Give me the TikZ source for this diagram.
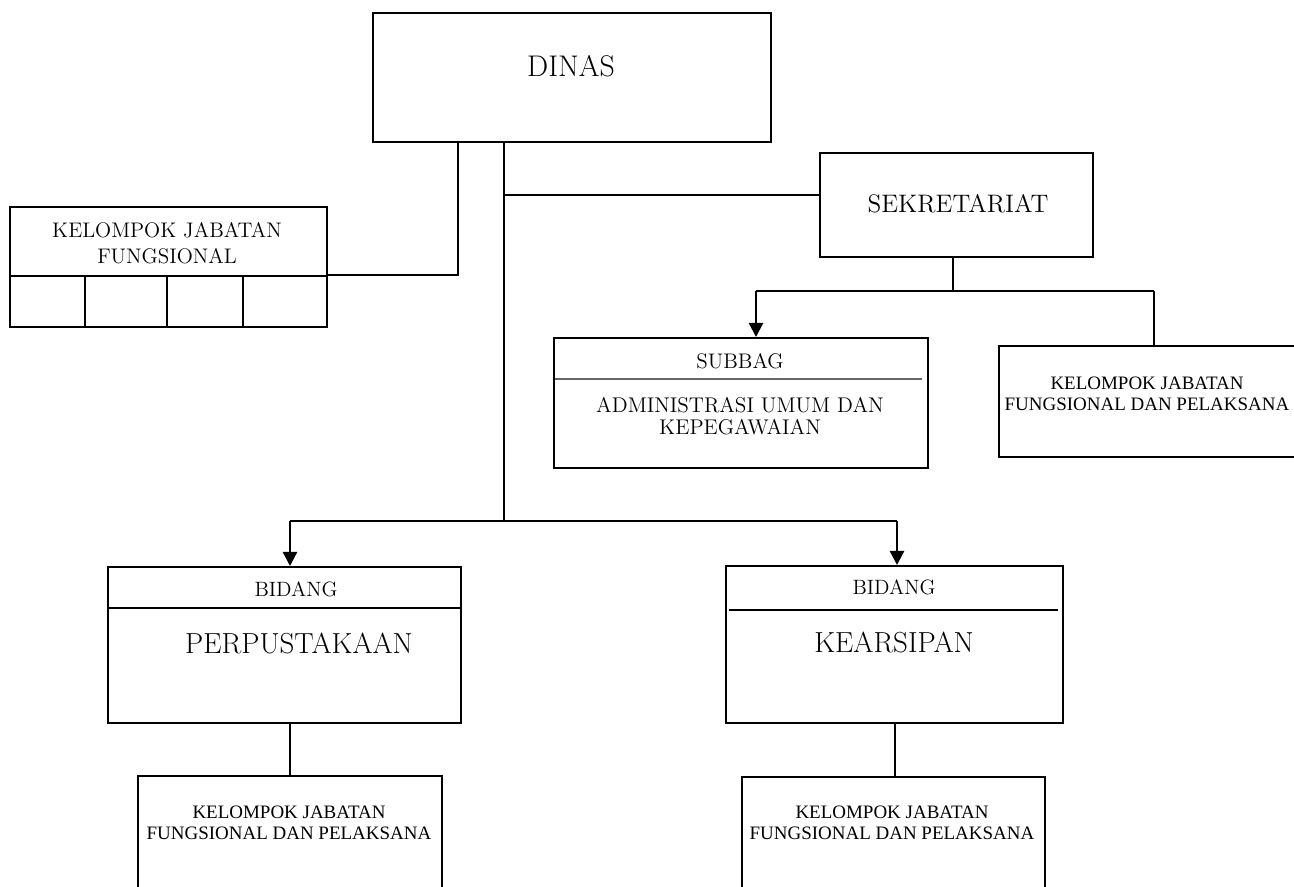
\documentclass[tikz,border=0pt]{standalone}
\usepackage{fontspec}
\newfontfamily\tms{Liberation Serif}
\usetikzlibrary{arrows.meta}
\begin{document}
\begin{tikzpicture}[x=0.02cm,y=-0.02cm,
  box/.style={draw,line width=1.3pt,rectangle,inner sep=0pt,anchor=north west},
  link/.style={line width=1.3pt},
  down/.style={line width=1.3pt,-{Triangle[width=8pt,length=8pt]}},
  sep/.style={line width=1.3pt},
  thinsep/.style={line width=0.6pt,black!60},
  lbl/.style={inner sep=0pt,align=center,text=black}]
\useasboundingbox (0,0) rectangle (1294,886);
\clip (0,0) rectangle (1294,886);

% boxes
\node[box,minimum width=7.96cm,minimum height=2.58cm] (dinas) at (372,12) {};
\node[box,minimum width=6.34cm,minimum height=2.40cm] (kjf) at (9,206) {};
\node[box,minimum width=5.46cm,minimum height=2.08cm] (sek) at (819,152) {};
\node[box,minimum width=7.48cm,minimum height=2.60cm] (subbag) at (553,337) {};
\node[box,minimum width=6.04cm,minimum height=2.22cm] (kjfr) at (998,345) {};
\node[box,minimum width=7.06cm,minimum height=3.12cm] (perp) at (107,566) {};
\node[box,minimum width=6.74cm,minimum height=3.14cm] (arsip) at (725,565) {};
\node[box,minimum width=6.08cm,minimum height=2.70cm] (kjfpa) at (137,775) {};
\node[box,minimum width=6.06cm,minimum height=2.70cm] (kjfar) at (741,776) {};

% inner rules
\draw[sep] (kjf.west |- 0,276) -- (kjf.east |- 0,276);
\foreach \cx in {85,167,243} \draw[sep] (\cx,276) -- (kjf.south -| \cx,0);
\draw[thinsep] (555,379) -- (922,379);
\draw[sep] (perp.west |- 0,608) -- (perp.east |- 0,608);
\draw[sep] (729,610) -- (1058,610);

% labels
\node[lbl,font=\fontsize{17}{20}\selectfont] (tdinas) at (571,66) {DINAS};
\node[lbl,font=\fontsize{12}{14.7}\selectfont] (tkjf) at (167,243.5) {KELOMPOK JABATAN\\FUNGSIONAL};
\node[lbl,font=\fontsize{14.4}{17}\selectfont] (tsek) at (958,203.5) {SEKRETARIAT};
\node[lbl,font=\fontsize{12}{14}\selectfont] (tsub) at (740,361.5) {SUBBAG};
\node[lbl,font=\fontsize{12.1}{12.8}\selectfont] (tadm) at (740,416) {ADMINISTRASI UMUM DAN\\KEPEGAWAIAN};
\node[lbl,font=\tms\fontsize{10.8}{12.2}\selectfont] (tkjfr) at (1147,394) {KELOMPOK JABATAN\\FUNGSIONAL DAN PELAKSANA};
\node[lbl,font=\fontsize{11.8}{14}\selectfont] (tbid1) at (296,589) {BIDANG};
\node[lbl,font=\fontsize{16.5}{19}\selectfont] (tperp) at (299,643) {PERPUSTAKAAN};
\node[lbl,font=\fontsize{11.8}{14}\selectfont] (tbid2) at (894,587) {BIDANG};
\node[lbl,font=\fontsize{16.5}{19}\selectfont] (tarsip) at (894,642) {KEARSIPAN};
\node[lbl,font=\tms\fontsize{10.8}{12.2}\selectfont] (tkjfpa) at (289,823) {KELOMPOK JABATAN\\FUNGSIONAL DAN PELAKSANA};
\node[lbl,font=\tms\fontsize{10.8}{12.2}\selectfont] (tkjfar) at (892,823) {KELOMPOK JABATAN\\FUNGSIONAL DAN PELAKSANA};

% junction points
\coordinate (j1) at (458,275);
\coordinate (j2) at (504,195);
\coordinate (j3) at (504,521);
\coordinate (a1) at (290,521);
\coordinate (a2) at (897,521);
\coordinate (s1) at (953,291);
\coordinate (s2) at (756,291);
\coordinate (s3) at (1154,291);
\coordinate (p1) at (290,748);
\coordinate (p2) at (895,748);

% connectors
\draw[link] (dinas.south -| j1) -- (j1) -- (kjf.east |- j1);
\draw[link] (dinas.south -| j2) -- (j2) -- (sek.west |- j2);
\draw[link] (j2) -- (j3);
\draw[link] (a1) -- (a2);
\draw[down] (a1) -- (a1 |- perp.north);
\draw[down] (a2) -- (a2 |- arsip.north);
\draw[link] (sek.south -| s1) -- (s1);
\draw[link] (s2) -- (s3);
\draw[down] (s2) -- (s2 |- subbag.north);
\draw[link] (s3) -- (s3 |- kjfr.north);
\draw[link] (perp.south -| p1) -- (kjfpa.north -| p1);
\draw[link] (arsip.south -| p2) -- (kjfar.north -| p2);
\end{tikzpicture}
\end{document}
